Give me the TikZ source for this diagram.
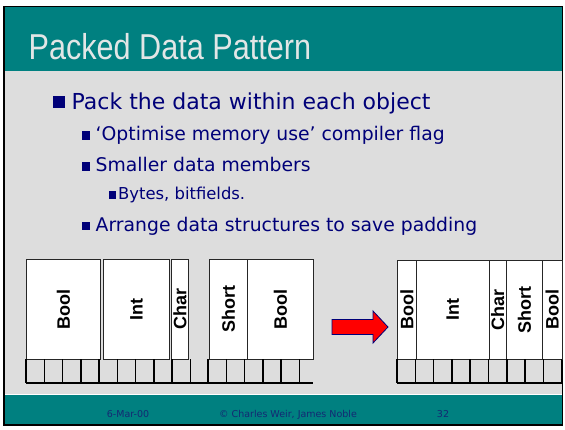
\documentclass[tikz,border=0pt]{standalone}
\usepackage{fontspec}
\setmainfont{DejaVu Sans}
\newfontfamily\titlefamily[FakeStretch=0.85]{Liberation Sans}
\newfontfamily\labelfamily{Liberation Sans}

\definecolor{slideteal}{RGB}{0,128,128}
\definecolor{slidegrey}{RGB}{221,221,221}
\definecolor{textnavy}{RGB}{0,0,120}
\definecolor{footnavy}{RGB}{20,40,115}
\definecolor{titlegrey}{RGB}{226,230,230}

\newcommand{\sqbullet}[3]{\llap{\rule[#3]{#1}{#1}\hspace{#2}}}

\tikzset{
  bullettext/.style={anchor=base west, inner sep=0pt, text=textnavy},
  field/.style={draw=black!85, line width=0.8bp, fill=white, anchor=north west, inner sep=0pt, minimum height=100bp},
  fieldname/.style={rotate=90, inner sep=0pt, font=\labelfamily\bfseries\fontsize{18bp}{18bp}\selectfont},
  byteline/.style={line width=1.5bp},
  footer/.style={anchor=base, inner sep=0pt, text=footnavy, font=\fontsize{9.5bp}{10bp}\selectfont},
}

\begin{document}
\begin{tikzpicture}[x=1bp,y=-1bp]
    \useasboundingbox (0,0) rectangle (565,429);

    % Slide background
    \fill[white] (0,0) rectangle (565,429);
    \fill[slideteal] (4,6.5) rectangle (562.5,425);
    \fill[slidegrey] (4,70.5) rectangle (562.5,393.5);
    \draw[white, line width=1bp] (4,394.3) -- (562.5,394.3);
    \draw[black, line width=1.6bp] (4,6.5) rectangle (562.5,425);

    % Title and bullets
    \node[anchor=base west, inner sep=0pt, text=titlegrey, font=\titlefamily\fontsize{36bp}{36bp}\selectfont] (title) at (28.5,59.3) {Packed Data Pattern};
    \node[bullettext, font=\fontsize{22bp}{26bp}\selectfont] (pack) at (71.5,109.3) {\sqbullet{11.7bp}{6.5bp}{1.2bp}Pack the data within each object};
    \node[bullettext, font=\fontsize{18.8bp}{22bp}\selectfont] (optimise) at (95.5,140.3) {\sqbullet{8.3bp}{5.5bp}{0.6bp}‘Optimise memory use’ compiler flag};
    \node[bullettext, font=\fontsize{18.8bp}{22bp}\selectfont] (smaller) at (95.5,171.3) {\sqbullet{8.3bp}{5.5bp}{0.8bp}Smaller data members};
    \node[bullettext, font=\fontsize{16.4bp}{20bp}\selectfont] (bytes) at (118,199.3) {\sqbullet{7.7bp}{1.8bp}{0.8bp}Bytes, bitfields.};
    \node[bullettext, font=\fontsize{18.8bp}{22bp}\selectfont] (arrange) at (95.5,231.3) {\sqbullet{8.3bp}{5.5bp}{1.2bp}Arrange data structures to save padding};

    % Define the fields before packing
    \node[field, minimum width=74bp, label={[fieldname]center:Bool}] (bool0) at (26,259) {};
    \node[field, minimum width=66bp, label={[fieldname]center:Int}] (int0) at (103,259) {};
    \node[field, minimum width=17bp, label={[fieldname]center:Char}] (char0) at (171,259) {};
    \node[field, minimum width=38bp, label={[fieldname]center:Short}] (short0) at (209,259) {};
    \node[field, minimum width=66bp, label={[fieldname]center:Bool}] (last0) at (247,259) {};

    % Draw the bytes underneath
    \foreach \x in {0,...,9}
        \draw[byteline] ({26+18.25*\x},359) -- ({26+18.25*\x},383);
    \foreach \x in {0,...,5}
        \draw[byteline] ({208+18.25*\x},359) -- ({208+18.25*\x},383);
    \draw[line width=2bp] (26,383) -- (313,383);

    % Arrow
    \filldraw[fill=red, draw=textnavy, line width=0.8bp] (332,319.5) -- (373,319.5) -- (373,311) -- (388,327) -- (373,343) -- (373,334.5) -- (332,334.5) -- cycle;

    % Define the fields after packing
    \node[field, minimum height=99bp, minimum width=19bp, label={[fieldname]center:Bool}] (bool1) at (397,260) {};
    \node[field, minimum height=99bp, minimum width=72.5bp, label={[fieldname]center:Int}] (int1) at (416,260) {};
    \node[field, minimum height=99bp, minimum width=17.5bp, label={[fieldname]center:Char}] (char1) at (488.5,260) {};
    \node[field, minimum height=99bp, minimum width=36bp, label={[fieldname]center:Short}] (short1) at (506,260) {};
    \node[field, minimum height=99bp, minimum width=19.5bp, label={[fieldname]center:Bool}] (last1) at (542,260) {};

    \foreach \x in {0,...,9}
        \draw[byteline] ({397+18.3*\x},359) -- ({397+18.3*\x},383);
    \draw[line width=2bp] (397,383) -- (561.7,383);

    % Footer
    \node[footer] (date) at (128,417) {6-Mar-00};
    \node[footer] (authors) at (288,417) {© Charles Weir, James Noble};
    \node[footer] (page) at (443,417) {32};
\end{tikzpicture}
\end{document}
